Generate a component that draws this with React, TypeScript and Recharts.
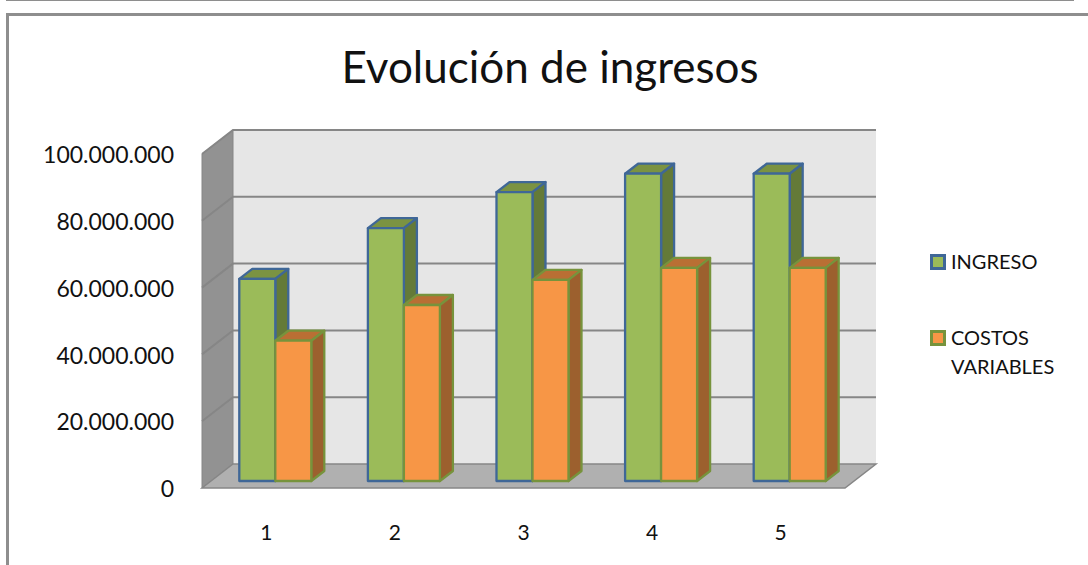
import React from 'react';
import { BarChart, Bar, XAxis, YAxis, Legend, CartesianGrid } from 'recharts';

const categories = ['1', '2', '3', '4', '5'];
const ingreso = [60500000, 75700000, 86500000, 92000000, 92000000];
const costosVariables = [42000000, 52700000, 60200000, 63800000, 63800000];
const yTicks = [0, 20000000, 40000000, 60000000, 80000000, 100000000];

const rows = categories.map((periodo, i) => ({
  periodo,
  INGRESO: ingreso[i],
  'COSTOS VARIABLES': costosVariables[i],
}));

const FONT = 'Lato, "Open Sans", sans-serif';
const WIDTH = 1088;
const HEIGHT = 565;
const PLOT = { left: 202, right: 845, top: 154, bottom: 488 };
// Depth of the chart box, and how far into it the bars stand.
const DEPTH = { x: 31, y: -24 };
const BAR_OFFSET = { x: 9, y: -7 };
const BAR_DEPTH = { x: 13, y: -10 };
const GRID = '#868686';

const pts = (list: number[][]) => list.map((p) => p.join(',')).join(' ');
const formatMiles = (v: number) => String(v).replace(/\B(?=(\d{3})+(?!\d))/g, '.');

// Back wall, side wall and floor of the box, painted underneath the chart.
const Walls = () => {
  const { left: l, right: r, top: t, bottom: b } = PLOT;
  const { x: dx, y: dy } = DEPTH;
  return (
    <svg width={WIDTH} height={HEIGHT} style={{ position: 'absolute', left: 0, top: 0 }}>
      <rect x={l + dx} y={t + dy} width={r - l} height={b - t} fill="#e6e6e6" />
      <polygon points={pts([[l, t], [l + dx, t + dy], [l + dx, b + dy], [l, b]])} fill="#929292" stroke={GRID} strokeWidth={1} />
      <polygon points={pts([[l, b], [l + dx, b + dy], [r + dx, b + dy], [r, b]])} fill="#b0b0b0" stroke={GRID} strokeWidth={1.5} />
    </svg>
  );
};

// Each horizontal gridline runs along the side wall and then across the back wall.
const GridLine = (props: any) => {
  const { x1, x2, y1 } = props;
  const { x: dx, y: dy } = DEPTH;
  if (y1 >= PLOT.bottom - 1) return <g />;
  return (
    <polyline
      points={pts([[x1, y1], [x1 + dx, y1 + dy], [x2 + dx, y1 + dy]])}
      fill="none"
      stroke={GRID}
      strokeWidth={2}
    />
  );
};

const Box3D = (props: any) => {
  const { x, y, width, height, front, top, side, edge } = props;
  const fx = x + BAR_OFFSET.x;
  const fy = y + BAR_OFFSET.y;
  const { x: dx, y: dy } = BAR_DEPTH;
  const common = { stroke: edge, strokeWidth: 2.3, strokeLinejoin: 'round' as const };
  return (
    <g>
      <polygon points={pts([[fx, fy], [fx + dx, fy + dy], [fx + width + dx, fy + dy], [fx + width, fy]])} fill={top} {...common} />
      <polygon
        points={pts([[fx + width, fy], [fx + width + dx, fy + dy], [fx + width + dx, fy + height + dy], [fx + width, fy + height]])}
        fill={side}
        {...common}
      />
      <rect x={fx} y={fy} width={width} height={height} fill={front} {...common} />
    </g>
  );
};

const swatches: Record<string, { fill: string; edge: string }> = {
  INGRESO: { fill: '#9bbb59', edge: '#3f6797' },
  'COSTOS VARIABLES': { fill: '#f79646', edge: '#77933c' },
};

const LegendBody = ({ payload }: any) => (
  <div style={{ fontFamily: FONT, fontSize: 20, color: '#111', lineHeight: '29px' }}>
    {(payload || []).map((entry: any) => (
      <div key={entry.value} style={{ position: 'relative', paddingLeft: 21, marginBottom: 47 }}>
        <span
          style={{
            position: 'absolute',
            left: 0,
            top: 7,
            width: 16,
            height: 16,
            boxSizing: 'border-box',
            border: `3px solid ${swatches[entry.value].edge}`,
            background: swatches[entry.value].fill,
          }}
        />
        {String(entry.value).split(' ').map((word) => (
          <div key={word}>{word}</div>
        ))}
      </div>
    ))}
  </div>
);

export default function App() {
  return (
    <div style={{ position: 'absolute', left: 0, top: 0, width: WIDTH, height: HEIGHT, background: '#fff', overflow: 'hidden' }}>
      <div style={{ position: 'absolute', left: 6, top: 0, width: 1068, height: 1, background: '#8e8e8e' }} />
      <div style={{ position: 'absolute', left: 6, top: 13, width: 1082, height: 552, borderTop: '3px solid #8e8e8e', borderLeft: '3px solid #8e8e8e', boxSizing: 'border-box' }} />
      <div style={{ position: 'absolute', left: 0, top: 40, width: 1100, textAlign: 'center', fontFamily: FONT, fontSize: 44, color: '#111', lineHeight: '52px' }}>
        Evolución de ingresos
      </div>
      <Walls />
      <BarChart
        width={WIDTH}
        height={HEIGHT}
        data={rows}
        barGap={0}
        barCategoryGap="22%"
        margin={{ left: PLOT.left - 1, right: WIDTH - PLOT.right, top: PLOT.top, bottom: HEIGHT - PLOT.bottom - 1 }}
        style={{ position: 'absolute', left: 0, top: 0 }}
      >
        <CartesianGrid vertical={false} horizontal={(p: any) => <GridLine {...p} />} />
        <XAxis
          dataKey="periodo"
          height={1}
          axisLine={false}
          tickLine={false}
          tickMargin={31}
          tick={{ fontFamily: FONT, fontSize: 21, fill: '#111' }}
        />
        <YAxis
          width={1}
          domain={[0, 100000000]}
          ticks={yTicks}
          axisLine={false}
          tickLine={false}
          tickMargin={22}
          tickFormatter={formatMiles}
          tick={{ fontFamily: FONT, fontSize: 23, fill: '#111', dy: 1 }}
        />
        <Bar
          dataKey="INGRESO"
          isAnimationActive={false}
          shape={(p: any) => <Box3D {...p} front="#9bbb59" top="#7b9342" side="#647a38" edge="#3f6797" />}
        />
        <Bar
          dataKey="COSTOS VARIABLES"
          isAnimationActive={false}
          shape={(p: any) => <Box3D {...p} front="#f79646" top="#b96f34" side="#9c602e" edge="#77933c" />}
        />
        <Legend
          layout="vertical"
          align="center"
          verticalAlign="middle"
          itemSorter={null}
          content={<LegendBody />}
          wrapperStyle={{ left: 930, top: 247, width: 150 }}
        />
      </BarChart>
    </div>
  );
}
